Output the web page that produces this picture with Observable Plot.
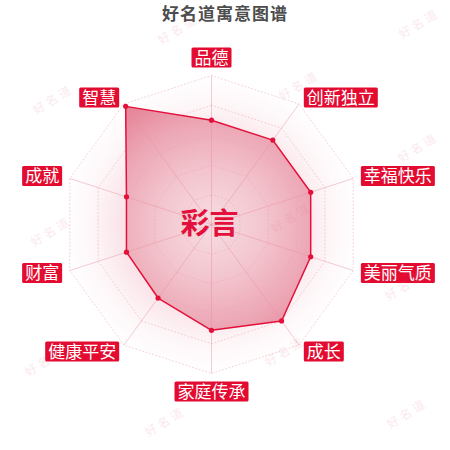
<!DOCTYPE html>
<html>
<head>
<meta charset="utf-8">
<script src="https://cdn.jsdelivr.net/npm/d3@7"></script>
<script src="https://cdn.jsdelivr.net/npm/@observablehq/plot@0.6"></script>
<style>
  body { margin: 0; background: #fff; font-family: "Noto Sans CJK SC", "Noto Sans", sans-serif; }
  #wrap { position: relative; width: 450px; height: 450px; overflow: hidden; background: #fff; }
  #chart { position: absolute; left: 0; top: 0; }
  #title { position: absolute; top: 0; left: 0; width: 450px; text-align: center; font-size: 17px; font-weight: bold; color: #4d4d4d; line-height: 25px; letter-spacing: 1px; }
  .wm { position: absolute; font-size: 12px; font-weight: bold; color: rgba(225, 110, 135, 0.12); transform: rotate(-32deg); letter-spacing: 3px; white-space: nowrap; pointer-events: none; }
</style>
</head>
<body>
<div id="wrap">
  <div id="chart"></div>
  <div id="title"></div>
  <div id="wms"></div>
</div>
<script>
const title = "好名道寓意图谱";
const centerName = "彩言";
const watermark = "好名道";
const categories = ["品德", "创新独立", "幸福快乐", "美丽气质", "成长", "家庭传承", "健康平安", "财富", "成就", "智慧"];
const values = [70, 70, 70, 70, 80, 71, 61, 60, 60, 98];
const levels = [20, 40, 60, 80, 100];
const maxValue = 100;

const red = "#e2103a";
const labelRed = "#e30b30";

document.getElementById("title").textContent = title;

const n = categories.length;
const ang = i => 2 * Math.PI * i / n;
const X = (v, i) => (v / maxValue) * Math.sin(ang(i));
const Y = (v, i) => (v / maxValue) * Math.cos(ang(i));

const points = categories.map((c, i) => ({category: c, i, value: values[i]}));
const rings = levels.flatMap(l => categories.map((c, i) => ({level: l, i})));
const outer = categories.map((c, i) => ({category: c, i}));
const labelR = maxValue * 1.054;

const isTop = d => Math.abs(Math.sin(ang(d.i))) < 1e-6 && Math.cos(ang(d.i)) > 0;
const isBottom = d => Math.abs(Math.sin(ang(d.i))) < 1e-6 && Math.cos(ang(d.i)) < 0;
const isRight = d => Math.sin(ang(d.i)) > 1e-6;
const isLeft = d => Math.sin(ang(d.i)) < -1e-6;

const defsMark = (index, scales) => {
  const cx = scales.x(0), cy = scales.y(0), r = scales.x(1) - scales.x(0);
  const defs = d3.create("svg:defs");
  const g1 = defs.append("radialGradient").attr("id", "polyGrad")
    .attr("gradientUnits", "userSpaceOnUse").attr("cx", cx).attr("cy", cy).attr("r", r);
  [[0, "#f7dde2"], [0.35, "#f3c6cf"], [0.7, "#eca4b3"], [1, "#e57d93"]]
    .forEach(([o, c]) => g1.append("stop").attr("offset", o).attr("stop-color", c));
  const g2 = defs.append("radialGradient").attr("id", "bgGrad")
    .attr("gradientUnits", "userSpaceOnUse").attr("cx", cx).attr("cy", cy).attr("r", r);
  [[0, 0.3], [0.6, 0.3], [0.8, 0.1], [1, 0.0]]
    .forEach(([o, a]) => g2.append("stop").attr("offset", o).attr("stop-color", "#eea3b4").attr("stop-opacity", a));
  return defs.node();
};

const labelStyle = {text: "category", fill: "#fff", fontSize: 17, className: "radar-label"};

const chart = Plot.plot({
  width: 450,
  height: 450,
  margin: 0,
  x: {domain: [-1, 1], range: [62, 360], axis: null},
  y: {domain: [-1, 1], range: [373, 75], axis: null},
  style: {fontFamily: '"Noto Sans CJK SC", sans-serif', background: "transparent"},
  marks: [
    defsMark,
    Plot.line(outer, {x: d => X(maxValue, d.i), y: d => Y(maxValue, d.i), curve: "linear-closed", fill: "url(#bgGrad)", stroke: "none"}),
    Plot.line(points, {x: d => X(d.value, d.i), y: d => Y(d.value, d.i), curve: "linear-closed", fill: "url(#polyGrad)", stroke: "none"}),
    Plot.line(rings, {x: d => X(d.level, d.i), y: d => Y(d.level, d.i), z: "level", curve: "linear-closed", stroke: "#eba3b2", strokeOpacity: 0.5, strokeWidth: 1, strokeDasharray: "1,2.5"}),
    Plot.link(outer, {x1: 0, y1: 0, x2: d => X(maxValue, d.i), y2: d => Y(maxValue, d.i), stroke: "#e98da0", strokeOpacity: 0.45, strokeWidth: 1}),
    Plot.line(points, {x: d => X(d.value, d.i), y: d => Y(d.value, d.i), curve: "linear-closed", stroke: red, strokeWidth: 1.5}),
    Plot.dot(points, {x: d => X(d.value, d.i), y: d => Y(d.value, d.i), r: 2.6, fill: red}),
    Plot.text(outer.filter(isTop), {...labelStyle, x: d => X(labelR, d.i), y: d => Y(labelR, d.i), textAnchor: "middle", dy: -9}),
    Plot.text(outer.filter(isBottom), {...labelStyle, x: d => X(labelR, d.i), y: d => Y(labelR, d.i), textAnchor: "middle", dy: 11}),
    Plot.text(outer.filter(isRight), {...labelStyle, x: d => X(labelR, d.i), y: d => Y(labelR, d.i), textAnchor: "start", dx: 3, dy: 1}),
    Plot.text(outer.filter(isLeft), {...labelStyle, x: d => X(labelR, d.i), y: d => Y(labelR, d.i), textAnchor: "end", dx: -3, dy: 1}),
    Plot.text([centerName], {x: 0, y: 0, text: d => d, fontSize: 29, fontWeight: "bold", fill: red, dx: -2})
  ]
});

document.getElementById("chart").append(chart);

chart.querySelectorAll("g.radar-label text").forEach(t => {
  const b = t.getBBox();
  const cy = b.y + b.height / 2 + 1;
  const rect = document.createElementNS("http://www.w3.org/2000/svg", "rect");
  rect.setAttribute("x", b.x - 3);
  rect.setAttribute("width", b.width + 6);
  rect.setAttribute("y", cy - 10);
  rect.setAttribute("height", 20);
  rect.setAttribute("rx", 1.5);
  rect.setAttribute("fill", labelRed);
  const tr = t.getAttribute("transform");
  if (tr) rect.setAttribute("transform", tr);
  t.parentNode.insertBefore(rect, t);
});

const wmSpots = [[155, 20], [396, 14], [30, 90], [276, 76], [395, 138], [28, 222], [268, 208], [382, 276], [22, 352], [262, 342], [142, 412], [384, 404]];
const wms = document.getElementById("wms");
wmSpots.forEach(([l, t]) => {
  const s = document.createElement("div");
  s.className = "wm";
  s.style.left = l + "px";
  s.style.top = t + "px";
  s.textContent = watermark;
  wms.append(s);
});
</script>
</body>
</html>
